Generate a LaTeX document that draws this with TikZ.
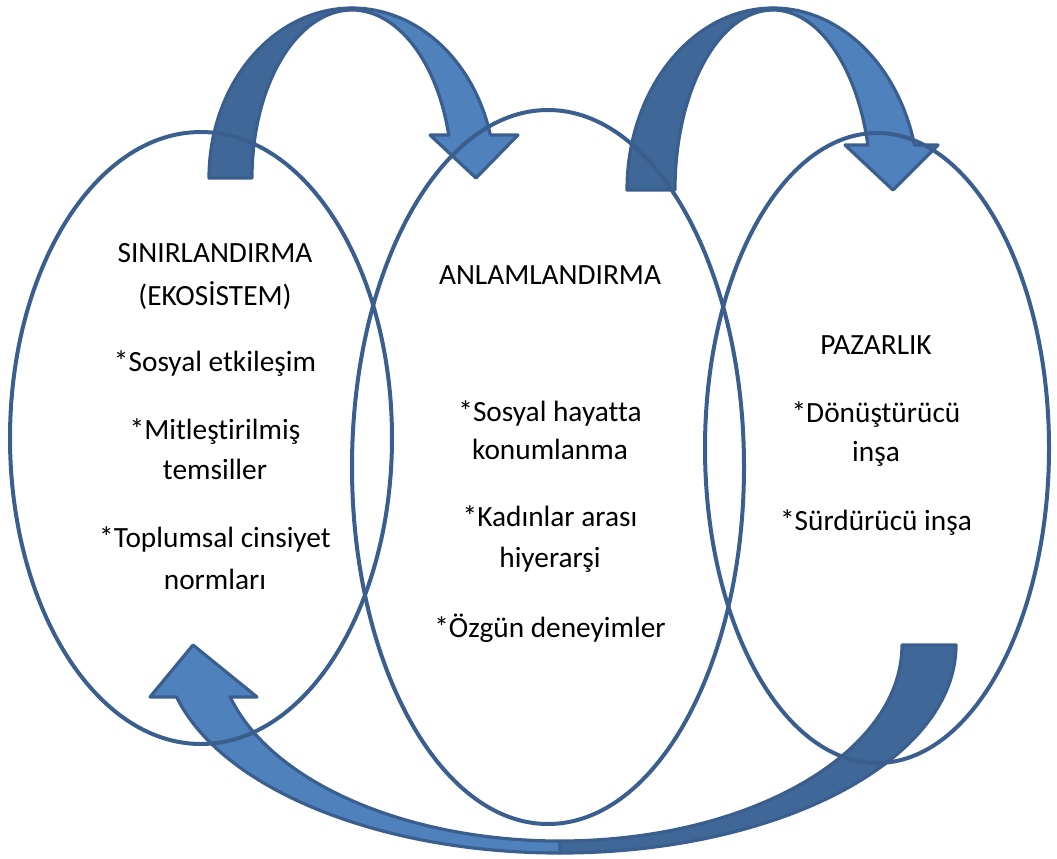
\documentclass[tikz,border=0pt]{standalone}
\usepackage{fontspec}
\setmainfont[Ligatures={NoCommon,NoRare,NoContextual}]{Carlito}
\definecolor{edgeblue}{HTML}{3A5F8E}
\definecolor{lightblue}{HTML}{4F81BD}
\definecolor{darkblue}{HTML}{3F6797}
\begin{document}
\begin{tikzpicture}[x=0.75pt,y=-0.75pt,
  ring/.style={draw=edgeblue,line width=3pt},
  arrowlight/.style={fill=lightblue,draw=edgeblue,line width=2.4pt,line join=round},
  arrowdark/.style={fill=darkblue,draw=edgeblue,line width=2.4pt,line join=round},
  lbl/.style={font=\fontsize{22}{30}\selectfont,anchor=base,inner sep=0pt}]
\useasboundingbox (0,0) rectangle (1057,858);
% top-left curved arrow
\filldraw[arrowdark] (209,178) arc[start angle=180,end angle=270,x radius=143,y radius=170]
  -- (352,10) arc[start angle=270,end angle=180,x radius=100,y radius=168] -- cycle;
\filldraw[arrowlight] (352,8) arc[start angle=270,end angle=345.35,x radius=143,y radius=170]
  -- (518,135) -- (476,178) -- (430,135) -- (448.7,135)
  arc[start angle=345.17,end angle=270,x radius=100,y radius=168] -- cycle;
% top-right curved arrow
\filldraw[arrowdark] (627,190) arc[start angle=180,end angle=270,x radius=146,y radius=182]
  -- (773,10) arc[start angle=270,end angle=180,x radius=98,y radius=180] -- cycle;
\filldraw[arrowlight] (773,8) arc[start angle=270,end angle=345.68,x radius=146,y radius=182]
  -- (938,145) -- (893,190) -- (845,145) -- (867.9,145)
  arc[start angle=345.52,end angle=270,x radius=98,y radius=180] -- cycle;
% bottom curved arrow
\filldraw[arrowdark] (956,645) arc[start angle=0,end angle=90,x radius=396,y radius=208]
  -- (560,841) arc[start angle=90,end angle=0,x radius=342,y radius=196] -- cycle;
\filldraw[arrowlight] (560,853) arc[start angle=90,end angle=165.52,x radius=396,y radius=208]
  -- (150,697) -- (193,645) -- (257,697) -- (230.2,697)
  arc[start angle=164.62,end angle=90,x radius=342,y radius=196] -- cycle;
% ellipses
\draw[ring] (201,438) ellipse[x radius=191,y radius=306];
\draw[ring] (548,467) ellipse[x radius=196,y radius=357];
\draw[ring] (877,448) ellipse[x radius=172,y radius=315];
% texts
\node[lbl] (l1) at (215,262) {SINIRLANDIRMA};
\node[lbl] (l2) at (215,305) {(EKOSİSTEM)};
\node[lbl] (l3) at (215,371) {*Sosyal etkileşim};
\node[lbl] (l4) at (215,439) {*Mitleştirilmiş};
\node[lbl] (l5) at (215,479) {temsiller};
\node[lbl] (l6) at (215,547) {*Toplumsal cinsiyet};
\node[lbl] (l7) at (215,589) {normları};
\node[lbl] (m1) at (550,284) {ANLAMLANDIRMA};
\node[lbl] (m2) at (550,421) {*Sosyal hayatta};
\node[lbl] (m3) at (550,459) {konumlanma};
\node[lbl] (m4) at (550,526) {*Kadınlar arası};
\node[lbl] (m5) at (550,567) {hiyerarşi};
\node[lbl] (m6) at (550,637) {*Özgün deneyimler};
\node[lbl] (r1) at (876,354) {PAZARLIK};
\node[lbl] (r2) at (876,422) {*Dönüştürücü};
\node[lbl] (r3) at (876,461) {inşa};
\node[lbl] (r4) at (876,530) {*Sürdürücü inşa};
\end{tikzpicture}
\end{document}
